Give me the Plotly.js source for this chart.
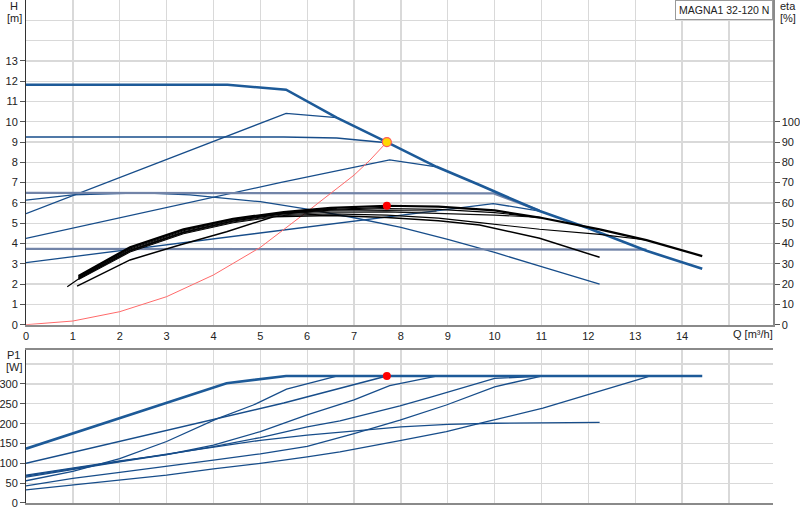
<!DOCTYPE html>
<html>
<head>
<meta charset="utf-8">
<script src="https://cdn.plot.ly/plotly-3.0.1.min.js"></script>
<style>
  html, body { margin: 0; padding: 0; background: #fff; }
  #graph { width: 800px; height: 520px; }
</style>
</head>
<body>
<div id="graph"></div>
<script>
// Q [m3/h] -> H [m]
const qMax = [0, 4.3, 5.55, 6.63, 7.7, 8.76, 9.68, 10.96, 12, 13.24, 14.43];
const hMax = [11.82, 11.82, 11.58, 10.2, 9.0, 7.78, 6.88, 5.6, 4.75, 3.64, 2.76];
const qCp9 = [0, 5.5, 6.63, 7.7];
const hCp9 = [9.25, 9.25, 9.2, 8.97];
const qCp6 = [0, 9.98, 10.96];
const hCp6 = [6.5, 6.47, 5.62];
const qCp3 = [0, 13.24];
const hCp3 = [3.74, 3.7];
const qPp1 = [0, 5.55, 6.63];
const hPp1 = [5.47, 10.41, 10.2];
const qPp2 = [0, 5.42, 7.76, 8.76];
const hPp2 = [4.25, 7.0, 8.12, 7.78];
const qPp3 = [0, 5.42, 9.97, 10.96];
const hPp3 = [3.06, 4.63, 5.97, 5.6];
const qFix = [0, 1, 2.5, 3.5, 5, 6, 7, 8, 9, 10, 11, 12.24];
const hFix = [6.14, 6.4, 6.5, 6.4, 6.06, 5.7, 5.27, 4.8, 4.2, 3.56, 2.86, 2.0];
const qSys = [0, 1, 2, 3, 4, 5, 6, 7, 7.34, 7.7];
const hSys = [0, 0.18, 0.64, 1.38, 2.45, 3.81, 5.57, 7.37, 8.11, 9.0];

// Q -> eta [%]
const qEtaMax = [1.12, 2.22, 3.36, 4.42, 5.5, 6.5, 7.7, 8.8, 10, 10.96, 12.24, 13.24, 14.43];
const etaMax = [24, 38.2, 47, 52.2, 55.5, 57.6, 58.6, 58.2, 56.3, 52.8, 47, 41.7, 33.8];
const qEtaCp9 = [1.12, 2.22, 3.36, 4.42, 5.5, 6.5, 7.7];
const etaCp9 = [23.2, 37.3, 46.3, 51.6, 55, 56.8, 57.8];
const qEtaCp6 = [0.88, 1.12, 2.22, 3.36, 4.42, 5.5, 6.5, 7.7, 8.8, 10, 11];
const etaCp6 = [18.7, 22.5, 36.5, 45.5, 51, 54.8, 56.5, 57.2, 56.8, 55.2, 52.8];
const qEtaPp1 = [1.12, 2.22, 3.36, 4.42, 5.5, 6.63];
const etaPp1 = [23.6, 37.8, 46.8, 52, 55.3, 57.2];
const qEtaPp2 = [1.12, 2.22, 3.36, 4.42, 5.5, 6.5, 7.7, 8.76];
const etaPp2 = [23, 36.8, 45.8, 51.2, 54.6, 56, 56.3, 56];
const qEtaPp3 = [1.12, 2.22, 3.36, 4.42, 5.5, 6.5, 7.7, 8.8, 10, 11];
const etaPp3 = [22.8, 36.2, 45.2, 50.6, 54.2, 55.4, 55.6, 55, 54, 52.8];
const qEtaCp3 = [1.12, 2.22, 3.36, 4.42, 5.5, 6.5, 7.7, 8.8, 9.68, 10.96, 12.24, 13.24];
const etaCp3 = [22.2, 35.8, 44.8, 50.2, 53.8, 54.6, 54, 52.5, 50.3, 47, 44.5, 41.7];
const qEtaFix = [1.09, 2.22, 3.28, 4.28, 5.28, 6.5, 7.7, 8.8, 9.68, 10.96, 12.24];
const etaFix = [19, 31.9, 39.3, 45.8, 53.2, 53.8, 52.8, 51.2, 49.1, 42.6, 33.2];

// Q -> P1 [W]
const qPMax = [0, 4.28, 5.55, 14.43];
const pMax = [137, 302, 320, 320];
const qPCp9 = [0, 4, 5.5, 7.7];
const pCp9 = [100, 210, 252, 320];
const qPPp1 = [0, 1, 2, 3, 4.07, 4.85, 5.56, 6.63];
const pPp1 = [56, 80, 112, 155, 212, 247, 287, 320];
const qPPp2 = [0, 1, 2, 3, 4, 5, 6, 7, 7.76, 8.76];
const pPp2 = [65, 85, 104, 122, 146, 180, 222, 260, 296, 320];
const qPCp6 = [0, 1, 2, 3, 4, 5, 6, 6.7, 7.98, 8.62, 10, 11];
const pCp6 = [70, 88, 106, 122, 142, 165, 192, 207, 245, 266, 314, 320];
const qPFix = [0, 1, 2, 3, 4, 5, 6, 7, 8, 9, 10, 12.24];
const pFix = [68, 87, 105, 123, 140, 158, 171, 181, 192, 198, 201, 203];
const qPPp3 = [0, 1, 2, 3, 4, 5, 6, 7, 7.98, 8.97, 10, 11];
const pPp3 = [43, 62, 77, 92, 108, 124, 143, 175, 209, 247, 293, 320];
const qPCp3 = [0, 1, 2, 3, 4, 5, 6, 6.7, 7.98, 8.97, 9.83, 11.03, 13.24, 13.3];
const pPCp3 = [33, 45, 57, 70, 86, 100, 116, 129, 157, 180, 205, 239, 317, 320];

// duty point
const dutyQ = [7.7];
const dutyH = [9.0];
const dutyEta = [58.6];
const dutyP = [320];

const xTicks = [0, 1, 2, 3, 4, 5, 6, 7, 8, 9, 10, 11, 12, 13, 14];
const hTicks = [0, 1, 2, 3, 4, 5, 6, 7, 8, 9, 10, 11, 12, 13];
const etaTicks = [0, 10, 20, 30, 40, 50, 60, 70, 80, 90, 100];
const pTicks = [0, 50, 100, 150, 200, 250, 300];

const blue = "#174d8a";
const blueMax = "#1d5a98";
const blueGrey = "#7284a8";
const grid = "#d9d9d9";

function line(x, y, color, width, axes) {
  return {
    x: x, y: y, mode: "lines", type: "scatter",
    line: { color: color, width: width },
    xaxis: axes[0], yaxis: axes[1],
    hoverinfo: "skip", showlegend: false,
  };
}

const H = ["x", "y"];
const E = ["x", "y2"];
const P = ["x2", "y3"];

const data = [
  line(qPp1, hPp1, blue, 1.3, H),
  line(qPp2, hPp2, blue, 1.3, H),
  line(qPp3, hPp3, blue, 1.3, H),
  line(qFix, hFix, blue, 1.3, H),
  line(qCp6, hCp6, blueGrey, 2.2, H),
  line(qCp3, hCp3, blueGrey, 2.2, H),
  line(qCp9, hCp9, blue, 1.5, H),
  line(qMax, hMax, blueMax, 2.6, H),
  line(qSys, hSys, "#ff6a6a", 1, H),

  line(qEtaFix, etaFix, "#000", 1.5, E),
  line(qEtaCp3, etaCp3, "#000", 1.1, E),
  line(qEtaPp3, etaPp3, "#111", 1.1, E),
  line(qEtaPp2, etaPp2, "#111", 1.1, E),
  line(qEtaCp6, etaCp6, "#000", 1.2, E),
  line(qEtaPp1, etaPp1, "#111", 1.1, E),
  line(qEtaCp9, etaCp9, "#000", 1.2, E),
  line(qEtaMax, etaMax, "#000", 2.2, E),

  line(qPPp1, pPp1, blue, 1.3, P),
  line(qPPp2, pPp2, blue, 1.3, P),
  line(qPCp6, pCp6, blue, 1.3, P),
  line(qPFix, pFix, blue, 1.3, P),
  line(qPPp3, pPp3, blue, 1.3, P),
  line(qPCp3, pPCp3, blue, 1.3, P),
  line(qPCp9, pCp9, blue, 1.5, P),
  line(qPMax, pMax, blueMax, 2.6, P),

  {
    x: dutyQ, y: dutyH, mode: "markers", type: "scatter", xaxis: "x", yaxis: "y",
    marker: { color: "#ffd800", size: 9, line: { color: "#ff5a5a", width: 1.2 } },
    hoverinfo: "skip", showlegend: false,
  },
  {
    x: dutyQ, y: dutyEta, mode: "markers", type: "scatter", xaxis: "x", yaxis: "y2",
    marker: { color: "#ff0000", size: 8 }, hoverinfo: "skip", showlegend: false,
  },
  {
    x: dutyQ, y: dutyP, mode: "markers", type: "scatter", xaxis: "x2", yaxis: "y3",
    marker: { color: "#ff0000", size: 8 }, hoverinfo: "skip", showlegend: false,
  },
];

const tickFont = { family: "Liberation Sans, Arial, sans-serif", size: 11, color: "#222" };

function label(text, x, y) {
  return {
    text: text, xref: "paper", yref: "paper", x: x, y: y,
    xanchor: "center", yanchor: "middle", showarrow: false, font: tickFont,
  };
}

const layout = {
  width: 800,
  height: 520,
  margin: { l: 26, r: 27, t: 0, b: 17 },
  paper_bgcolor: "#fff",
  plot_bgcolor: "#fff",
  font: tickFont,
  showlegend: false,
  xaxis: {
    domain: [0, 1], anchor: "y", range: [0, 15.94],
    tickmode: "array", tickvals: xTicks, ticks: "",
    showgrid: true, gridcolor: grid, gridwidth: 1.3,
    minor: { tickvals: [15], showgrid: true, gridcolor: grid, gridwidth: 1.3 },
    showline: true, linecolor: "#8a8a8a", linewidth: 2, zeroline: false,
    tickfont: tickFont,
  },
  yaxis: {
    domain: [0.3545, 1], anchor: "x", range: [0, 16],
    tickmode: "array", tickvals: hTicks, ticks: "outside", ticklen: 5, tickcolor: "#555",
    showgrid: true, gridcolor: grid, gridwidth: 1.3,
    minor: { tickvals: [14, 15], showgrid: true, gridcolor: grid, gridwidth: 1.3, ticks: "" },
    showline: true, linecolor: "#333", linewidth: 1, zeroline: false,
    tickfont: tickFont,
  },
  yaxis2: {
    overlaying: "y", anchor: "x", side: "right", range: [0, 160],
    tickmode: "array", tickvals: etaTicks, ticks: "outside", ticklen: 5, tickcolor: "#555",
    showgrid: false, zeroline: false,
    showline: true, linecolor: "#8a8a8a", linewidth: 1.5,
    tickfont: tickFont,
  },
  xaxis2: {
    domain: [0, 1], anchor: "y3", range: [0, 15.94],
    tickmode: "array", tickvals: xTicks, ticks: "", showticklabels: false,
    showgrid: true, gridcolor: grid, gridwidth: 1.3,
    minor: { tickvals: [15], showgrid: true, gridcolor: grid, gridwidth: 1.3 },
    showline: true, mirror: true, linecolor: "#8a8a8a", linewidth: 1.5, zeroline: false,
  },
  yaxis3: {
    domain: [0, 0.3042], anchor: "x2", range: [0, 385.7],
    tickmode: "array", tickvals: pTicks, ticks: "outside", ticklen: 5, tickcolor: "#555",
    showgrid: true, gridcolor: grid, gridwidth: 1.3,
    minor: { tickvals: [350], showgrid: true, gridcolor: grid, gridwidth: 1.3, ticks: "" },
    showline: true, linecolor: "#333", linewidth: 1, zeroline: false,
    tickfont: tickFont,
  },
  yaxis4: {
    overlaying: "y3", anchor: "x2", side: "right", range: [0, 385.7],
    showticklabels: false, ticks: "", showgrid: false, zeroline: false,
    showline: true, linecolor: "#8a8a8a", linewidth: 1.5,
  },
  annotations: [
    label("H", -0.016, 0.988),
    label("[m]", -0.016, 0.965),
    label("eta", 1.02, 0.988),
    label("[%]", 1.02, 0.965),
    label("P1", -0.017, 0.295),
    label("[W]", -0.016, 0.27),
    { text: "Q [m³/h]", xref: "x", yref: "paper", x: 15.05, xanchor: "left", y: 0.336,
      yanchor: "middle", showarrow: false, font: tickFont },
    {
      text: "MAGNA1 32-120 N", xref: "paper", yref: "paper", x: 0.9995, y: 1.0,
      xanchor: "right", yanchor: "top", showarrow: false,
      bgcolor: "#fff", bordercolor: "#9a9a9a", borderwidth: 1, borderpad: 3,
      font: { family: "Liberation Sans, Arial, sans-serif", size: 10.5, color: "#222" },
    },
  ],
};

Plotly.newPlot("graph", data, layout, { staticPlot: true, displayModeBar: false });
</script>
</body>
</html>
